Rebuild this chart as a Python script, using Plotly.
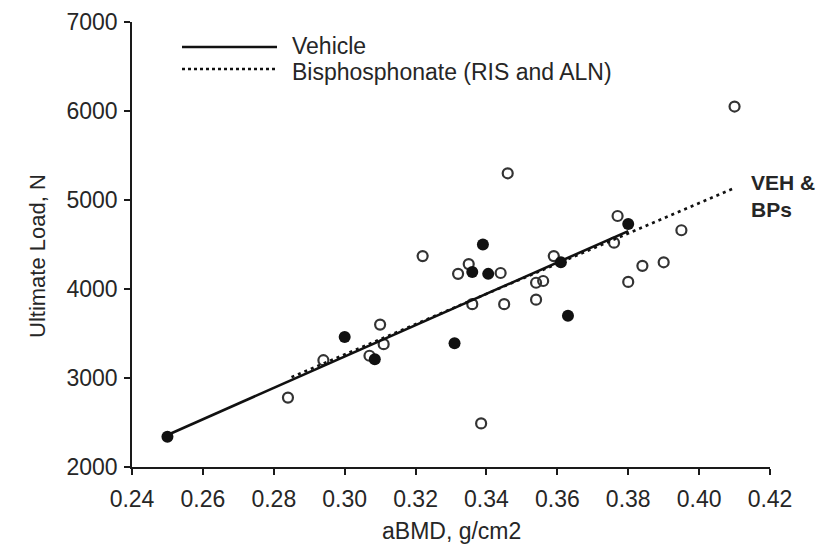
import plotly.graph_objects as go

# ---- data ----
veh_bmd = [0.250, 0.300, 0.3085, 0.331, 0.336, 0.339, 0.3405, 0.361, 0.363, 0.380]
veh_load = [2340, 3460, 3210, 3390, 4190, 4500, 4170, 4300, 3700, 4730]

bp_bmd = [0.284, 0.294, 0.307, 0.310, 0.311, 0.322, 0.332, 0.335, 0.336, 0.344,
          0.345, 0.346, 0.3385, 0.354, 0.356, 0.354, 0.359, 0.376, 0.377, 0.380,
          0.384, 0.390, 0.395, 0.410]
bp_load = [2780, 3200, 3250, 3600, 3380, 4370, 4170, 4280, 3830, 4180,
           3830, 5300, 2490, 4070, 4090, 3880, 4370, 4520, 4820, 4080,
           4260, 4300, 4660, 6050]

veh_fit_bmd = [0.250, 0.380]
veh_fit_load = [2360, 4650]
bp_fit_bmd = [0.285, 0.410]
bp_fit_load = [3010, 5135]

x_ticks = [0.24, 0.26, 0.28, 0.30, 0.32, 0.34, 0.36, 0.38, 0.40, 0.42]
x_tick_labels = ["0.24", "0.26", "0.28", "0.30", "0.32", "0.34", "0.36", "0.38", "0.40", "0.42"]
y_ticks = [2000, 3000, 4000, 5000, 6000, 7000]
y_tick_labels = ["2000", "3000", "4000", "5000", "6000", "7000"]

legend_labels = ["Vehicle", "Bisphosphonate (RIS and ALN)"]
end_label = "VEH &<br>BPs"
x_title = "aBMD, g/cm2"
y_title = "Ultimate Load, N"

# ---- layout geometry (pixels, in window coordinates) ----
OFF = 8  # default page body margin
W, H = 830 - OFF, 551 - OFF
L, R, T, B = 132 - OFF, 60, 22 - OFF, 84
PW, PH = W - L - R, H - T - B


def px(xp):
    return (xp - OFF - L) / PW


def py(yp):
    return (H - B - (yp - OFF)) / PH


FONT = "Liberation Sans, Arial, sans-serif"
TXT = "#262626"
AX = "#1a1a1a"

fig = go.Figure()

fig.add_trace(go.Scatter(
    x=bp_bmd, y=bp_load, mode="markers",
    marker=dict(symbol="circle-open", size=10, color="#333333", line=dict(width=2.2, color="#333333")),
    showlegend=False, hoverinfo="skip"))

fig.add_trace(go.Scatter(
    x=veh_fit_bmd, y=veh_fit_load, mode="lines",
    line=dict(color="#111111", width=2.6), showlegend=False, hoverinfo="skip"))

fig.add_trace(go.Scatter(
    x=bp_fit_bmd, y=bp_fit_load, mode="lines",
    line=dict(color="#111111", width=2.6, dash="3px,4px"), showlegend=False, hoverinfo="skip"))

fig.add_trace(go.Scatter(
    x=veh_bmd, y=veh_load, mode="markers",
    marker=dict(symbol="circle", size=12, color="#111111", line=dict(width=0)),
    showlegend=False, hoverinfo="skip"))

axis_common = dict(
    showline=True, linecolor=AX, linewidth=1.5,
    ticks="outside", ticklen=6, tickwidth=1.5, tickcolor=AX,
    showgrid=False, zeroline=False, automargin=False,
    tickfont=dict(family=FONT, size=23, color=TXT),
)

fig.update_xaxes(range=[0.24, 0.42], tickmode="array", tickvals=x_ticks, ticktext=x_tick_labels,
                 ticklabelstandoff=5, **axis_common)
fig.update_yaxes(range=[2000, 7000], tickmode="array", tickvals=y_ticks, ticktext=y_tick_labels,
                 ticklabelstandoff=2, **axis_common)

annotations = [
    dict(text=x_title, x=px(452), y=py(531), xref="paper", yref="paper",
         xanchor="center", yanchor="middle", showarrow=False,
         font=dict(family=FONT, size=23, color=TXT)),
    dict(text=y_title, x=px(37), y=py(256), xref="paper", yref="paper",
         xanchor="center", yanchor="middle", showarrow=False, textangle=-90,
         font=dict(family=FONT, size=22, color=TXT)),
    dict(text="<b>" + end_label + "</b>", x=px(749), y=py(196), xref="paper", yref="paper",
         xanchor="left", yanchor="middle", align="left", showarrow=False,
         font=dict(family=FONT, size=21, color=TXT)),
    dict(text=legend_labels[0], x=px(290), y=py(46), xref="paper", yref="paper",
         xanchor="left", yanchor="middle", showarrow=False,
         font=dict(family=FONT, size=23, color=TXT)),
    dict(text=legend_labels[1], x=px(290), y=py(72), xref="paper", yref="paper",
         xanchor="left", yanchor="middle", showarrow=False,
         font=dict(family=FONT, size=23, color=TXT)),
]

shapes = [
    dict(type="line", xref="paper", yref="paper", x0=px(182), x1=px(277), y0=py(47), y1=py(47),
         line=dict(color="#111111", width=2.6)),
    dict(type="line", xref="paper", yref="paper", x0=px(182), x1=px(277), y0=py(69), y1=py(69),
         line=dict(color="#111111", width=2.6, dash="3px,3px")),
]

fig.update_layout(
    width=W, height=H,
    margin=dict(l=L, r=R, t=T, b=B, autoexpand=False),
    paper_bgcolor="white", plot_bgcolor="white",
    showlegend=False,
    font=dict(family=FONT, color=TXT),
    annotations=annotations, shapes=shapes,
)

fig.write_html("out.html")
